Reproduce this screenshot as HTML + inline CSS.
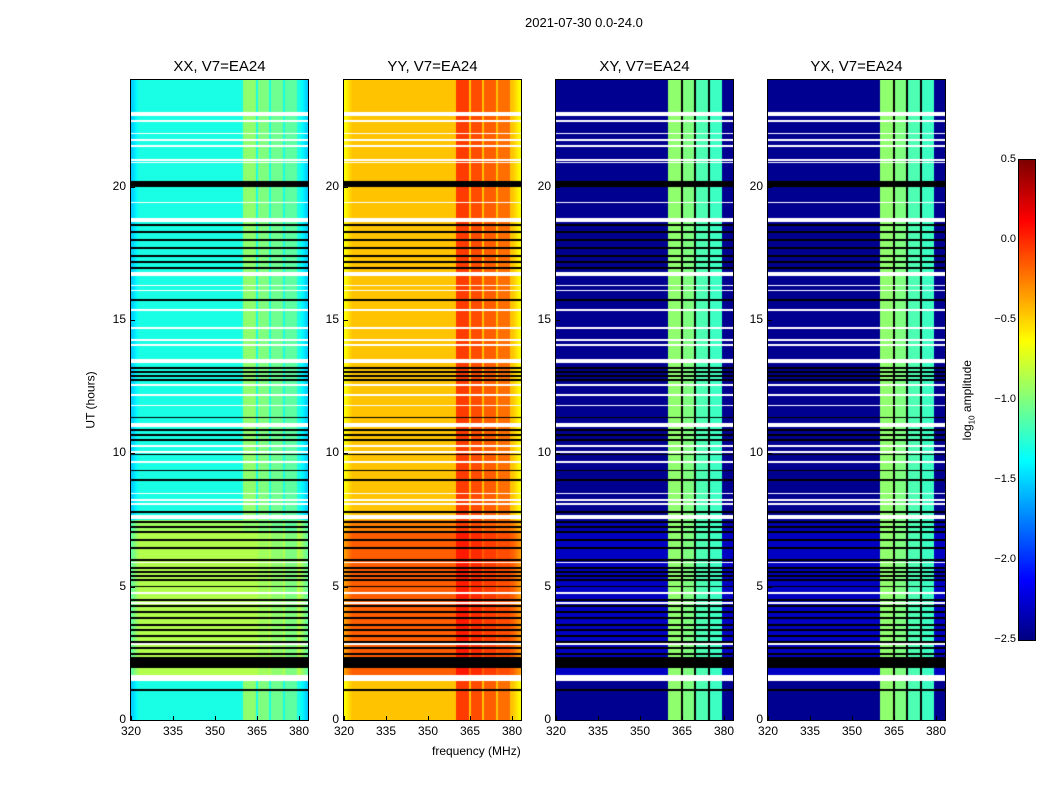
<!DOCTYPE html>
<html><head><meta charset="utf-8"><style>
body{margin:0;background:#fff;font-family:"Liberation Sans",sans-serif;}
#root{position:relative;width:1050px;height:800px;overflow:hidden;background:#fff}
.t{position:absolute;font-size:12px;color:#000;white-space:nowrap}
.title{position:absolute;font-size:15px;color:#000;white-space:nowrap;transform:translateX(-50%)}
canvas{position:absolute}
</style></head><body>
<div id="root">
<div class="t" style="left:525px;top:15px;font-size:13px">2021-07-30 0.0-24.0</div>
<div class="t" style="left:62px;top:393px;transform:rotate(-90deg);font-size:12px">UT (hours)</div>
<div class="t" style="left:432px;top:744px;font-size:12px">frequency (MHz)</div>
<div class="t" style="left:928px;top:392px;transform:rotate(-90deg);font-size:12px">log<sub style="font-size:8px">10</sub> amplitude</div>
<canvas id="cb" width="16" height="480" style="left:1019px;top:160px;outline:1px solid #000"></canvas>
</div>
<script>
// ---- data arrays ----
const panelNames = ["XX, V7=EA24","YY, V7=EA24","XY, V7=EA24","YX, V7=EA24"];
const freqTicks = [320,335,350,365,380];
const timeTicks = [0,5,10,15,20];
const cbTicks = [0.5,0.0,-0.5,-1.0,-1.5,-2.0,-2.5];
// time segments [start,end] with base log amplitude per panel
const segStart = [0,1.7,7.0,7.5];
const segEnd   = [1.7,7.0,7.5,24];
const baseXX = [-1.3,-0.85,-0.9,-1.3];
const baseYY = [-0.45,-0.15,-0.25,-0.45];
const baseXY = [-2.45,-2.3,-2.35,-2.45];
const baseYX = [-2.45,-2.3,-2.35,-2.45];
// bright frequency bands (MHz)
const bandLo = [360,365.4,370,375];
const bandHi = [364.6,369.3,374.3,379.3];
const bandXX = [-0.95,-1.0,-1.05,-1.1];
const bandYY = [-0.05,-0.1,-0.15,-0.2];
const bandXY = [-0.95,-1.0,-1.15,-1.2];
const bandYX = [-0.95,-1.0,-1.15,-1.2];
// flagged rows (hours): white = no data, black = flag lines
const whiteRows = [22.72,22.46,22.0,21.75,21.52,21.0,20.9,19.4,18.75,16.72,16.3,16.1,15.37,14.7,14.25,14.06,13.45,12.56,12.19,11.8,11.05,10.27,10.05,9.67,8.5,8.25,8.1,7.62,5.9,4.76,4.39,2.85,1.57];
const whiteThick = [0.13,0.05,0.05,0.05,0.05,0.05,0.05,0.05,0.15,0.13,0.05,0.05,0.05,0.05,0.05,0.05,0.15,0.05,0.05,0.05,0.15,0.05,0.05,0.05,0.05,0.05,0.05,0.15,0.05,0.05,0.05,0.05,0.2];
const blackRows = [20.1,18.56,18.3,18.0,17.7,17.4,17.17,16.95,15.75,13.2,13.05,12.9,12.75,11.36,10.87,10.69,10.5,9.94,9.37,9.0,7.8,7.42,7.24,7.05,6.75,6.45,6.0,5.7,5.55,5.4,5.25,5.0,4.5,4.27,4.05,3.82,3.56,3.37,3.15,2.92,2.7,2.47,2.15,1.12];
const blackThick = [0.22,0.05,0.05,0.05,0.05,0.05,0.05,0.05,0.04,0.05,0.05,0.05,0.05,0.04,0.05,0.05,0.05,0.04,0.04,0.04,0.04,0.06,0.06,0.06,0.05,0.05,0.05,0.06,0.05,0.05,0.05,0.06,0.05,0.05,0.05,0.05,0.05,0.05,0.05,0.05,0.05,0.05,0.4,0.05];

const bases=[baseXX,baseYY,baseXY,baseYX], bands=[bandXX,bandYY,bandXY,bandYX];
const VMIN=-2.5,VMAX=0.5, F0=320,F1=383.2, T0=0,T1=24;
const PW=177,PH=640, PY=80, PX=[131,344,556,768];

function jet(v){let t=(v-VMIN)/(VMAX-VMIN);t=Math.max(0,Math.min(1,t));
 const r=Math.max(0,Math.min(1,1.5-Math.abs(4*t-3))),g=Math.max(0,Math.min(1,1.5-Math.abs(4*t-2))),b=Math.max(0,Math.min(1,1.5-Math.abs(4*t-1)));
 return `rgb(${r*255|0},${g*255|0},${b*255|0})`;}
const xs=f=>(f-F0)/(F1-F0)*PW, ys=h=>PH-(h-T0)/(T1-T0)*PH;
const R=Math.round;

const root=document.getElementById('root');
function addText(txt,l,t,cls,name,extra){const d=document.createElement('div');d.className=cls;d.textContent=txt;d.style.left=l+'px';d.style.top=t+'px';if(extra)d.style.cssText+=extra;


root.appendChild(d);return d;}

for(let p=0;p<4;p++){
 const c=document.createElement('canvas');c.width=PW;c.height=PH;c.style.left=PX[p]+'px';c.style.top=PY+'px';c.style.outline='1px solid #000';
 
 
 root.appendChild(c);const g=c.getContext('2d');
 const base=bases[p],bd=bands[p];
 for(let s=0;s<segStart.length;s++){
  const y0=R(ys(segEnd[s])),y1=R(ys(segStart[s]));
  for(let x=0;x<PW;x++){
   const f=F0+(x+0.5)/PW*(F1-F0);
   let v=base[s];
   if(p<2){const e=Math.min(f-F0,F1-f);if(e<3)v+=(p==0?-0.25:-0.2)*(1-e/3);}
   for(let k=0;k<bandLo.length;k++) if(f>=bandLo[k]&&f<bandHi[k]) v=bd[k]+(s==1&&p<2?0.1:0);
   g.fillStyle=jet(v);g.fillRect(x,y0,1,y1-y0);
  }
 }
 if(p>=2){g.fillStyle='#000';for(let k=1;k<bandLo.length;k++){const a=R(xs(bandHi[k-1])),b=R(xs(bandLo[k]));g.fillRect(a,0,Math.max(1,b-a),PH);}}
 whiteRows.forEach((h,i)=>{g.fillStyle='#fff';const a=R(ys(h+whiteThick[i]/2));g.fillRect(0,a,PW,Math.max(1,R(ys(h-whiteThick[i]/2))-a));});
 blackRows.forEach((h,i)=>{g.fillStyle='#000';const a=R(ys(h+blackThick[i]/2));g.fillRect(0,a,PW,Math.max(1,R(ys(h-blackThick[i]/2))-a));});
 addText(panelNames[p],PX[p]+PW/2,58,'title','panel-title');
 freqTicks.forEach(f=>{const x=PX[p]+R(xs(f));addText(String(f),x,724,'t','x-tick-label',`transform:translateX(-50%)`);
  const tk=document.createElement('div');tk.style.cssText=`position:absolute;left:${x}px;top:${PY+PH-4}px;width:1px;height:4px;background:#000`;
  
  
  root.appendChild(tk);});
 timeTicks.forEach(h=>{const y=PY+R(ys(h));addText(String(h),PX[p]-5,y-8,'t','y-tick-label','transform:translateX(-100%)');
  const tk=document.createElement('div');tk.style.cssText=`position:absolute;left:${PX[p]}px;top:${y}px;width:4px;height:1px;background:#000`;
  
  
  root.appendChild(tk);});
}
const cb=document.getElementById('cb').getContext('2d');
for(let i=0;i<480;i++){cb.fillStyle=jet(VMAX-(i/480)*(VMAX-VMIN));cb.fillRect(0,i,16,1);}
cbTicks.forEach(v=>{const y=160+(VMAX-v)/(VMAX-VMIN)*480;addText(v.toFixed(1).replace('-','\u2212'),1016,y-7,'t','colorbar-tick-label','transform:translateX(-100%);font-size:11px');});
</script>
</body></html>
